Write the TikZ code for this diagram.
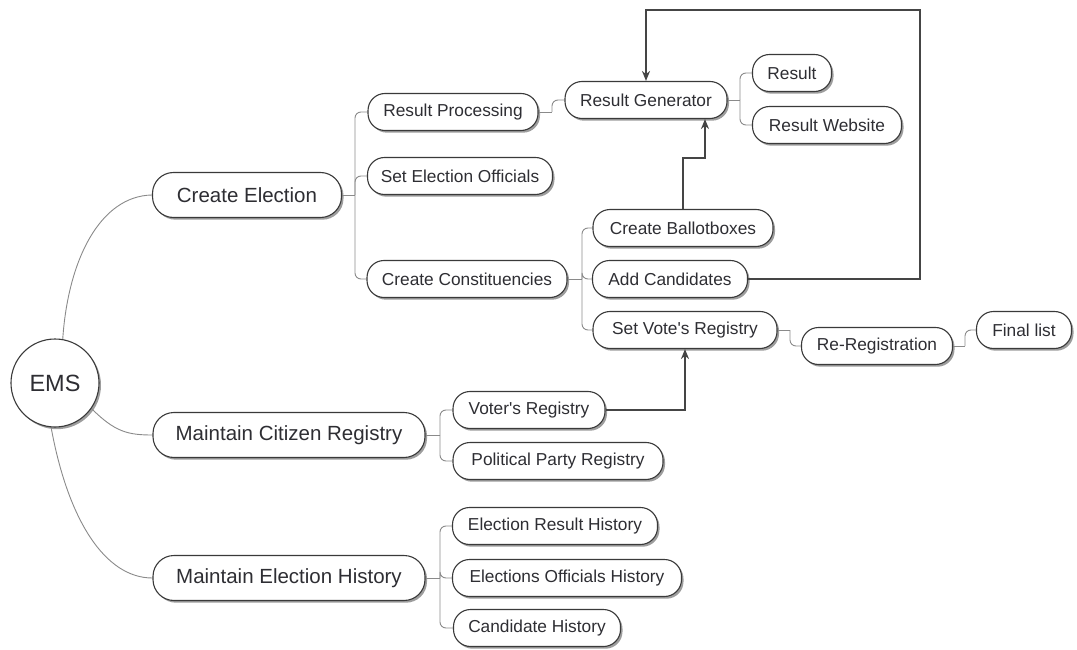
\documentclass[tikz,border=0pt]{standalone}
\usepackage{fontspec}
\setmainfont{Liberation Sans}[Ligatures=TeXOff]
\usetikzlibrary{shadows,backgrounds,arrows.meta}
\definecolor{bord}{HTML}{3A3A3A}
\definecolor{txt}{HTML}{2E2E33}
\definecolor{conn}{HTML}{8A8A8A}
\definecolor{arrc}{HTML}{454545}
\tikzset{
  nodebase/.style={draw=bord, line width=1.1pt, fill=white, text=txt, inner sep=0pt, anchor=center,
    drop shadow={shadow xshift=2pt, shadow yshift=-2.2pt, fill=black!45, opacity=0.85}},
  bigbox/.style={nodebase, rounded corners=21pt, minimum height=45pt, font=\fontsize{20.5}{24}\selectfont},
  smallbox/.style={nodebase, rounded corners=17pt, minimum height=37pt, font=\fontsize{17.3}{20}\selectfont},
  rootnode/.style={nodebase, circle, minimum size=88pt, font=\fontsize{23.5}{28}\selectfont},
  link/.style={draw=conn, line width=0.9pt},
  branch/.style={link, rounded corners=6pt},
  flow/.style={draw=arrc, line width=1.7pt, -{Stealth[length=10pt,width=8pt]}}
}
\begin{document}
\begin{tikzpicture}[x=1pt,y=-1pt]
\useasboundingbox (0,0) rectangle (1077,650);
% root
\node[rootnode] (ems) at (55,383) {EMS};
% level 1
\node[bigbox, minimum width=189pt] (ce) at (247,195) {Create Election};
\node[bigbox, minimum width=272pt] (mcr) at (289,435) {Maintain Citizen Registry};
\node[bigbox, minimum width=272pt] (meh) at (289,578) {Maintain Election History};
% Create Election children
\node[smallbox, minimum width=170pt] (rp) at (453,112) {Result Processing};
\node[smallbox, minimum width=185pt] (seo) at (460,176) {Set Election Officials};
\node[smallbox, minimum width=200pt] (cc) at (467,279) {Create Constituencies};
% Result generator
\node[smallbox, minimum width=162pt] (rg) at (646,100) {Result Generator};
\node[smallbox, minimum width=79pt] (res) at (792,73) {Result};
\node[smallbox, minimum width=149pt] (rw) at (827,125) {Result Website};
% Constituencies children
\node[smallbox, minimum width=180pt] (cb) at (683,228) {Create Ballotboxes};
\node[smallbox, minimum width=155pt] (ac) at (670,279) {Add Candidates};
\node[smallbox, minimum width=184pt] (svr) at (685,330) {Set Vote's Registry};
\node[smallbox, minimum width=151pt] (rr) at (877,346) {Re-Registration};
\node[smallbox, minimum width=95pt] (fl) at (1024,330) {Final list};
% Citizen registry children
\node[smallbox, minimum width=152pt] (vr) at (529,410) {Voter's Registry};
\node[smallbox, minimum width=210pt] (ppr) at (558,461) {Political Party Registry};
% History children
\node[smallbox, minimum width=205pt] (erh) at (555,526) {Election Result History};
\node[smallbox, minimum width=229pt] (eoh) at (567,578) {Elections Officials History};
\node[smallbox, minimum width=167pt] (ch) at (537,628) {Candidate History};

% junction coordinates
\coordinate (jce) at (355,195);
\coordinate (jrp) at (552,112);
\coordinate (jrg) at (740,100);
\coordinate (jcc) at (582,279);
\coordinate (jsvr) at (790,330);
\coordinate (jrr) at (965,346);
\coordinate (jmcr) at (440,435);
\coordinate (jmeh) at (440,578);
\coordinate (loop) at (920,10);
\coordinate (bend) at (705,158);

\begin{scope}[on background layer]
% root curves
\draw[link] (ems.80) .. controls (68,260) and (100,196) .. (ce.west);
\draw[link] (ems.-35) .. controls (115,432) and (128,435) .. (mcr.west);
\draw[link] (ems.-95) .. controls (68,520) and (105,578) .. (meh.west);
% Create Election
\draw[link] (ce.east) -- (jce);
\draw[branch] (jce) |- (rp.west);
\draw[branch] (jce) |- (seo.west);
\draw[branch] (jce) |- (cc.west);
% Result processing -> generator
\draw[link] (rp.east) -- (jrp);
\draw[branch] (jrp) |- (rg.west);
% Result generator
\draw[link] (rg.east) -- (jrg);
\draw[branch] (jrg) |- (res.west);
\draw[branch] (jrg) |- (rw.west);
% Constituencies
\draw[link] (cc.east) -- (jcc);
\draw[branch] (jcc) |- (cb.west);
\draw[branch] (jcc) |- (ac.west);
\draw[branch] (jcc) |- (svr.west);
% Registry chain
\draw[link] (svr.east) -- (jsvr);
\draw[branch] (jsvr) |- (rr.west);
\draw[link] (rr.east) -- (jrr);
\draw[branch] (jrr) |- (fl.west);
% Citizen registry
\draw[link] (mcr.east) -- (jmcr);
\draw[branch] (jmcr) |- (vr.west);
\draw[branch] (jmcr) |- (ppr.west);
% History
\draw[link] (meh.east) -- (jmeh);
\draw[branch] (jmeh) |- (erh.west);
\draw[branch] (jmeh) |- (eoh.west);
\draw[branch] (jmeh) |- (ch.west);
\end{scope}

% flow arrows
\draw[flow] (ac.east) -| (loop) -| (rg.north);
\draw[flow] (cb.north) |- (bend) -- (bend |- rg.south);
\draw[flow] (vr.east) -| (svr.south);
\end{tikzpicture}
\end{document}
